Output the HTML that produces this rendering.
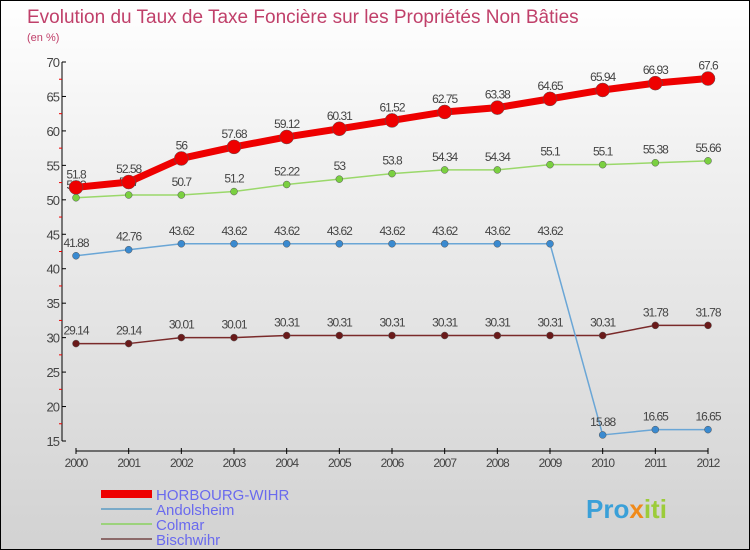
<!DOCTYPE html>
<html><head><meta charset="utf-8"><style>
body{margin:0}
#c{position:relative;width:748px;height:548px;border:1px solid #000;background:linear-gradient(#fff 0%,#f0f0f0 30%,#d2d2d2 100%);font-family:"Liberation Sans",sans-serif;overflow:hidden}
</style></head><body>
<div id="c">
<svg id="s" width="748" height="548" xmlns="http://www.w3.org/2000/svg" font-family="Liberation Sans, sans-serif">
<text x="26" y="22" font-size="19" fill="#c0406a">Evolution du Taux de Taxe Foncière sur les Propriétés Non Bâties</text>
<text x="26" y="40" font-size="11" fill="#c0406a">(en %)</text>
<g id="axes"></g><g id="series"></g>
<g id="legend">
<rect x="100" y="489" width="51" height="8" fill="#e00"/>
<text x="155" y="499" font-size="15" fill="#6a6aee">HORBOURG-WIHR</text>
<line x1="100" y1="508" x2="151" y2="508" stroke="#7aaac8" stroke-width="2"/>
<text x="155" y="514" font-size="15" fill="#6a6aee">Andolsheim</text>
<line x1="100" y1="523" x2="151" y2="523" stroke="#9cd27c" stroke-width="2"/>
<text x="155" y="529" font-size="15" fill="#6a6aee">Colmar</text>
<line x1="100" y1="538" x2="151" y2="538" stroke="#8c6a6a" stroke-width="2"/>
<text x="155" y="544" font-size="15" fill="#6a6aee">Bischwihr</text>
</g>
<text x="585" y="517" font-size="26" font-weight="bold" fill="#3aa0d8">Pro<tspan fill="#f08a1a">x</tspan><tspan fill="#9ccc3a">iti</tspan></text>
</svg>
</div>
<script>
const years=[2000,2001,2002,2003,2004,2005,2006,2007,2008,2009,2010,2011,2012];
const horbourg=[51.8,52.58,56,57.68,59.12,60.31,61.52,62.75,63.38,64.65,65.94,66.93,67.6];
const andolsheim=[41.88,42.76,43.62,43.62,43.62,43.62,43.62,43.62,43.62,43.62,15.88,16.65,16.65];
const colmar=[50.3,50.7,50.7,51.2,52.22,53,53.8,54.34,54.34,55.1,55.1,55.38,55.66];
const bischwihr=[29.14,29.14,30.01,30.01,30.31,30.31,30.31,30.31,30.31,30.31,30.31,31.78,31.78];
const yTicks=[15,20,25,30,35,40,45,50,55,60,65,70];
const NS="http://www.w3.org/2000/svg";
const xS=i=>75+i*(707-75)/12;
const yS=v=>440-(v-15)*(440-61)/55;
function mk(tag,attrs,parent){const e=document.createElementNS(NS,tag);for(const k in attrs)e.setAttribute(k,attrs[k]);parent.appendChild(e);return e;}
const ax=document.getElementById('axes');
let l=mk('line',{x1:61,y1:yS(70),x2:61,y2:yS(15),stroke:'#000'},ax);


l=mk('line',{x1:xS(0),y1:450,x2:xS(12),y2:450,stroke:'#000'},ax);


yTicks.forEach(v=>{
  mk('line',{x1:61,y1:yS(v),x2:65,y2:yS(v),stroke:'#000'},ax);
  if(v<70)mk('line',{x1:58,y1:yS(v+2.5),x2:61,y2:yS(v+2.5),stroke:'#e00'},ax);
  const t=mk('text',{x:58,y:yS(v)+5,'font-size':13,fill:'#444','text-anchor':'end','letter-spacing':'-1'},ax);
  t.textContent=v;
  
  
});
years.forEach((y,i)=>{
  mk('line',{x1:xS(i),y1:447,x2:xS(i),y2:453,stroke:'#000'},ax);
  const t=mk('text',{x:xS(i),y:466,'font-size':12,fill:'#444','text-anchor':'middle','letter-spacing':'-1'},ax);
  t.textContent=y;
  
  
});
const sg=document.getElementById('series');
function series(vals,name,color,dot,w,r,fs){
  const g=mk('g',{},sg);
  
  
  const p=mk('polyline',{points:vals.map((v,i)=>xS(i)+','+yS(v)).join(' '),fill:'none',stroke:color,'stroke-width':w,'stroke-linejoin':'round'},g);
  
  
  vals.forEach((v,i)=>{
    const c=mk('circle',{cx:xS(i),cy:yS(v),r:r,fill:dot,stroke:'#555','stroke-width':0.5},g);
    
    
    const t=mk('text',{x:xS(i),y:yS(v)-9,'font-size':fs,fill:'#444','text-anchor':'middle','letter-spacing':'-1'},g);
    t.textContent=String(v);
    
    
  });
}
series(bischwihr,'bischwihr','#7a2a2a','#6a1a1a',1.5,3.5,12);
series(andolsheim,'andolsheim','#6aa6d6','#3a8ad0',1.5,3.5,12);
series(colmar,'colmar','#9ad86a','#7ad040',1.5,3.5,12);
series(horbourg,'horbourg','#e00','#e00',7,7,12);
</script>
</body></html>
